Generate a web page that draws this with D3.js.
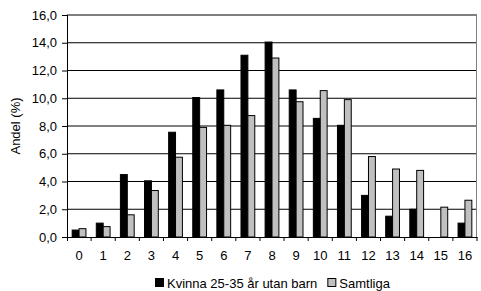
<!DOCTYPE html>
<html>
<head>
<meta charset="utf-8">
<script src="https://d3js.org/d3.v7.min.js"></script>
<style>
    body { margin: 0; background: #fff; }
    text { font-family: "Liberation Sans", Arial, sans-serif; fill: #000; }
</style>
</head>
<body>
<div id="chart"></div>
<script>
// categories and values
var categories = ["0","1","2","3","4","5","6","7","8","9","10","11","12","13","14","15","16"];
var kvinna   = [0.5, 1.0, 4.5, 4.05, 7.55, 10.05, 10.6, 13.1, 14.05, 10.6, 8.55, 8.05, 3.0, 1.5, 2.0, 0, 1.0];
var samtliga = [0.6, 0.75, 1.6, 3.35, 5.75, 7.9, 8.05, 8.75, 12.9, 9.75, 10.55, 9.9, 5.8, 4.9, 4.8, 2.15, 2.65];
var yTicks = [0, 2, 4, 6, 8, 10, 12, 14, 16];
var seriesNames = ["Kvinna 25-35 år utan barn", "Samtliga"];
var seriesColors = ["#000000", "#c0c0c0"];

var W = 481, H = 291;
var margin = {left: 67, top: 15, right: 4, bottom: 54};
var width = W - margin.left - margin.right,
    height = H - margin.top - margin.bottom;
var fs = "13px";

var svg = d3.select("#chart").append("svg")
    .attr("width", W).attr("height", H);

var g = svg.append("g")
    .attr("transform", "translate(" + margin.left + "," + margin.top + ")");

var x = d3.scaleBand().domain(categories).range([0, width]).paddingInner(0).paddingOuter(0);
var y = d3.scaleLinear().domain([0, 16]).range([height, 0]);

// bar width from a 150% gap
var bw = x.bandwidth() / 3.5;
var gap = (x.bandwidth() - 2 * bw) / 2;

// gridlines
g.selectAll(".grid").data(yTicks.slice(1)).enter().append("line")
    .attr("x1", 0).attr("x2", width)
    .attr("y1", function (d) { return y(d); })
    .attr("y2", function (d) { return y(d); })
    .attr("stroke", "#000").attr("stroke-width", 1);

// right border
g.append("line")
    .attr("x1", width - 0.5).attr("x2", width - 0.5)
    .attr("y1", 0).attr("y2", height)
    .attr("stroke", "#808080");

var series = [kvinna, samtliga];
series.forEach(function (vals, si) {
    g.selectAll(".bar" + si).data(vals).enter().append("rect")
        .attr("x", function (d, i) { return x(categories[i]) + gap + si * bw; })
        .attr("y", function (d) { return y(d); })
        .attr("width", bw)
        .attr("height", function (d) { return height - y(d); })
        .attr("fill", seriesColors[si])
        .attr("stroke", "#000").attr("stroke-width", 1)
        .style("display", function (d) { return d > 0 ? null : "none"; });
});

// y axis
var yAxis = d3.axisLeft(y).tickValues(yTicks).tickSize(5).tickPadding(5)
    .tickFormat(function (d) { return d3.format(".1f")(d).replace(".", ","); });
var ya = g.append("g").call(yAxis);
ya.select(".domain").remove();
ya.selectAll("text").style("font-size", fs).style("font-family", "Liberation Sans, Arial, sans-serif");
g.append("line").attr("x1", 0.5).attr("x2", 0.5).attr("y1", 0).attr("y2", height + 4)
    .attr("stroke", "#000");

// x axis
var xa = g.append("g").attr("transform", "translate(0," + height + ")")
    .call(d3.axisBottom(x).tickSize(0).tickPadding(14));
xa.select(".domain").attr("stroke", "#000");
xa.selectAll("text").style("font-size", fs).style("font-family", "Liberation Sans, Arial, sans-serif");
g.selectAll(".xtick").data(categories.slice(1).concat(["end"])).enter().append("line")
    .attr("x1", function (d, i) { return (i + 1) * x.step(); })
    .attr("x2", function (d, i) { return (i + 1) * x.step(); })
    .attr("y1", height).attr("y2", height + 4)
    .attr("stroke", "#000");

// y title
svg.append("text")
    .attr("transform", "translate(20," + (margin.top + height / 2) + ") rotate(-90)")
    .attr("text-anchor", "middle")
    .style("font-size", fs)
    .text("Andel (%)");

// legend
var leg = svg.append("g");
var lx = 0;
seriesNames.forEach(function (name, i) {
    var item = leg.append("g").attr("transform", "translate(" + lx + ",0)");
    item.append("rect").attr("x", 0.5).attr("y", -9.5).attr("width", 8).attr("height", 8)
        .attr("fill", seriesColors[i]).attr("stroke", "#000");
    var t = item.append("text").attr("x", 12).attr("y", 0).style("font-size", fs).text(name);
    lx += 12 + t.node().getComputedTextLength() + 10;
});
leg.attr("transform", "translate(155,288)");
</script>
</body>
</html>
